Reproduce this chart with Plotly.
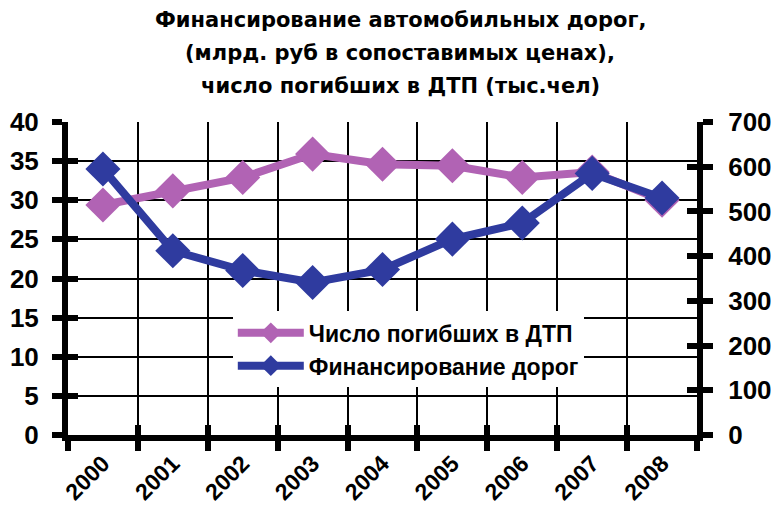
import plotly.graph_objects as go

# Years and series values
years = ["2000", "2001", "2002", "2003", "2004", "2005", "2006", "2007", "2008"]
deaths = [29.4, 31.2, 32.9, 35.9, 34.6, 34.4, 32.9, 33.6, 30.0]          # тыс. чел (left axis)
funding = [595, 412, 368, 341, 370, 438, 474, 585, 530]                  # млрд. руб (right axis)

left_ticks = [0, 5, 10, 15, 20, 25, 30, 35, 40]
right_ticks = [0, 100, 200, 300, 400, 500, 600, 700]

title_lines = [
    "Финансирование автомобильных дорог,",
    "(млрд. руб в сопоставимых ценах),",
    "число погибших в ДТП (тыс.чел)",
]

PINK = "#B163B4"
BLUE = "#2F3B9F"
TICK_FONT = dict(family="Liberation Sans, Arial, sans-serif", size=26, color="black", weight="bold")

fig = go.Figure()

fig.add_trace(go.Scatter(
    x=years, y=deaths, name="Число погибших в ДТП",
    mode="lines+markers",
    line=dict(color=PINK, width=8),
    marker=dict(symbol="diamond", size=27, color=PINK),
    xaxis="x", yaxis="y",
))
fig.add_trace(go.Scatter(
    x=years, y=funding, name="Финансирование дорог",
    mode="lines+markers",
    line=dict(color=BLUE, width=8),
    marker=dict(symbol="diamond", size=27, color=BLUE),
    xaxis="x", yaxis="y2",
))
# invisible helpers so the inner tick marks of the crossing ticks get drawn
fig.add_trace(go.Scatter(x=years, y=deaths, mode="none", showlegend=False,
                         hoverinfo="skip", xaxis="x2", yaxis="y3"))
fig.add_trace(go.Scatter(x=years, y=funding, mode="none", showlegend=False,
                         hoverinfo="skip", xaxis="x", yaxis="y4"))

for i, line in enumerate(title_lines):
    fig.add_annotation(
        text=line, xref="paper", yref="paper",
        x=0.528, y=[1.326, 1.220, 1.115][i],
        xanchor="center", yanchor="middle", showarrow=False,
        font=dict(family="DejaVu Sans, Verdana, sans-serif", size=21, color="black", weight="bold"),
    )

fig.update_layout(
    width=771, height=506,
    margin=dict(l=68, r=74, t=122, b=71, autoexpand=False),
    paper_bgcolor="white", plot_bgcolor="white",
    showlegend=True,
    legend=dict(
        x=0.262, y=0.395, xanchor="left", yanchor="top",
        bgcolor="white", borderwidth=0,
        font=dict(family="Liberation Sans, Arial, sans-serif", size=23, color="black", weight="bold"),
        itemwidth=66, tracegroupgap=0,
    ),
    xaxis=dict(
        type="category", categoryorder="array", categoryarray=years,
        range=[-0.5, 8.5], automargin=False,
        tickson="boundaries", ticks="outside", ticklen=10, tickwidth=6, tickcolor="black",
        showgrid=True, gridcolor="black", gridwidth=2,
        showline=True, linecolor="black", linewidth=6,
        tickangle=-45, tickfont=dict(TICK_FONT, size=23),
        zeroline=False,
    ),
    xaxis2=dict(
        type="category", categoryorder="array", categoryarray=years,
        overlaying="x", matches="x", side="bottom", automargin=False,
        tickson="boundaries", ticks="inside", ticklen=10, tickwidth=6, tickcolor="black",
        showgrid=False, showticklabels=False, showline=False,
    ),
    yaxis=dict(
        range=[0, 40], tickvals=left_ticks, automargin=False,
        ticks="outside", ticklen=10, tickwidth=6, tickcolor="black",
        showgrid=True, gridcolor="black", gridwidth=2,
        showline=True, linecolor="black", linewidth=6,
        tickfont=TICK_FONT, ticklabelstandoff=8,
        zeroline=False,
    ),
    yaxis3=dict(
        range=[0, 40], tickvals=left_ticks, overlaying="y", side="left", automargin=False,
        ticks="inside", ticklen=10, tickwidth=6, tickcolor="black",
        showgrid=False, showticklabels=False, showline=False, zeroline=False,
    ),
    yaxis2=dict(
        range=[0, 700], tickvals=right_ticks, overlaying="y", side="right", automargin=False,
        ticks="outside", ticklen=10, tickwidth=6, tickcolor="black",
        showgrid=False,
        showline=True, linecolor="black", linewidth=6,
        tickfont=TICK_FONT, ticklabelstandoff=10,
        zeroline=False,
    ),
    yaxis4=dict(
        range=[0, 700], tickvals=right_ticks, overlaying="y", side="right", automargin=False,
        ticks="inside", ticklen=10, tickwidth=6, tickcolor="black",
        showgrid=False, showticklabels=False, showline=False, zeroline=False,
    ),
)

fig.write_html("out.html")
